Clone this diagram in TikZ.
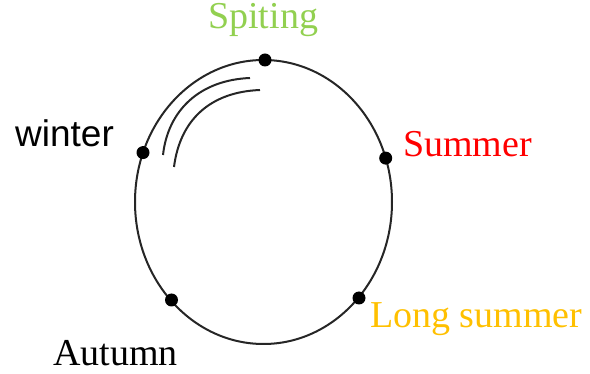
\documentclass[tikz,border=0pt]{standalone}
\usepackage{fontspec}
\setmainfont{Liberation Serif}
\newfontfamily\arialfont{Liberation Sans}
\definecolor{springgreen}{RGB}{146,208,80}
\definecolor{summerred}{RGB}{255,0,0}
\definecolor{longgold}{RGB}{255,192,0}
\begin{document}
\begin{tikzpicture}[x=1pt,y=-1pt,
  dot/.style={circle,fill=black,inner sep=0pt,minimum size=13pt},
  seasonlabel/.style={anchor=base west,inner sep=0pt,font=\fontsize{38}{40}\selectfont},
  curve/.style={line width=2pt,black!85}]
\useasboundingbox (0,0) rectangle (590,374);
\draw[curve] (263.5,202) ellipse [x radius=128.5pt, y radius=142pt];
\draw[curve] (163,155) .. controls (168,110) and (200,80) .. (250,78);
\draw[curve] (174,167) .. controls (180,120) and (210,92) .. (260,90);
\node[dot] (dsp) at (265,60) {};
\node[dot] (dwi) at (143,152.6) {};
\node[dot] (dsu) at (385.7,158.1) {};
\node[dot] (dls) at (359,298) {};
\node[dot] (dau) at (171.5,300) {};
\node[seasonlabel,text=springgreen] (lsp) at (208,29) {Spiting};
\node[seasonlabel,font=\arialfont\fontsize{37}{40}\selectfont] (lwi) at (15,146.7) {winter};
\node[seasonlabel,text=summerred] (lsu) at (403,157) {Summer};
\node[seasonlabel,text=longgold] (lls) at (370,328) {Long summer};
\node[seasonlabel] (lau) at (53,366) {Autumn};
\end{tikzpicture}
\end{document}
